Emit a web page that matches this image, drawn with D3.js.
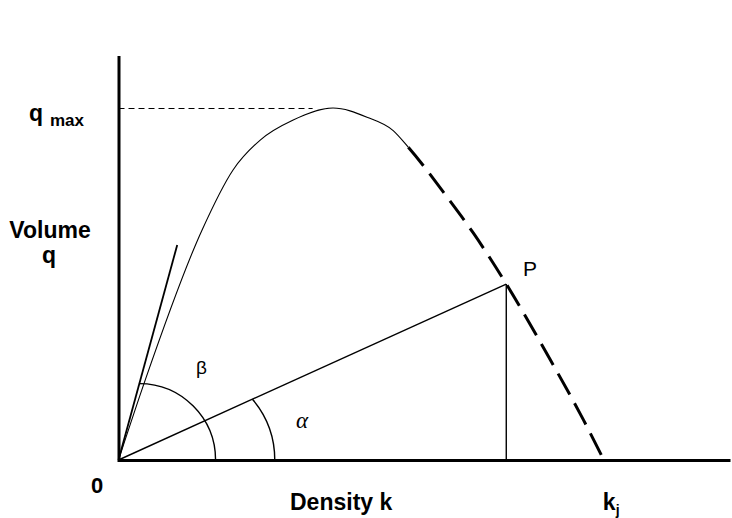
<!DOCTYPE html>
<html>
<head>
<meta charset="utf-8">
<script src="https://cdn.jsdelivr.net/npm/d3@7"></script>
<style>
  body { margin: 0; background: #fff; }
  text { font-family: "Liberation Sans", Arial, sans-serif; fill: #000; }
  .bold { font-weight: bold; }
</style>
</head>
<body>
<div id="chart-area"></div>
<script>
// DATA (density k, volume q)
const curveK = [0, 5.5, 17.2, 23.6, 29.2, 36.0, 44.2, 51.2, 56.6, 59.7, 67.7, 73.1, 79.9, 89.0, 95.8, 100]
const curveQ = [0, 22.7, 65.3, 82.4, 90.9, 96.6, 100, 97.4, 93.6, 88.9, 74.7, 64.5, 50.0, 28.4, 11.4, 0]
const solidEnd = 9          // last index of the solid (stable) part
const tangentEnd = [12.1, 61.1]
const pointP = [79.9, 50.0]
const qMax = 100
const qMaxLineEnd = 40
const kJam = 100
// ARCS: k where the arc leaves its line, k where it meets the axis
const betaArc = [4.3, 20.0]
const alphaArc = [27.6, 32.2]

// SET CHART MARGINS
const margin = {
    bottom: 58,
    left: 118.5,
    right: 2,
    top: 57
}

// SET CHART WIDTH & HEIGHT
const width = 732 - margin.left - margin.right
const height = 518 - margin.top - margin.bottom

// SET HTML TARGET
const svg = d3.select('#chart-area')
              .append('svg')
              .attr('width', 732)
              .attr('height', 518)

const g = svg.append('g')
             .attr('transform', 'translate(' + margin.left + ',' + margin.top + ')')

// SCALES
const x = d3.scaleLinear()
            .domain([0, 126])
            .range([0, width])

const y = d3.scaleLinear()
            .domain([0, 114.5])
            .range([height, 0])

const points = curveK.map((k, i) => [k, curveQ[i]])

const line = d3.line()
               .x(d => x(d[0]))
               .y(d => y(d[1]))
               .curve(d3.curveMonotoneX)

// QMAX GUIDE
g.append('line')
 .attr('x1', x(0))
 .attr('x2', x(qMaxLineEnd))
 .attr('y1', Math.round(y(qMax)) + 0.5)
 .attr('y2', Math.round(y(qMax)) + 0.5)
 .attr('stroke', '#000')
 .attr('stroke-width', 1)
 .attr('stroke-dasharray', '6,4')

// LENGTH OF THE SOLID (STABLE) PART ALONG THE CURVE
const solidLen = (() => {
    const tmp = g.append('path').datum(points.slice(0, solidEnd + 1)).attr('d', line)
    const l = tmp.node().getTotalLength()
    tmp.remove()
    return l
})()

// SOLID PART OF THE CURVE
const fullPath = g.append('path')
                  .datum(points)
                  .attr('d', line)
                  .attr('fill', 'none')
                  .attr('stroke', '#000')
                  .attr('stroke-width', 1.1)

const totalLen = fullPath.node().getTotalLength()
fullPath.attr('stroke-dasharray', solidLen + ',' + (totalLen + 10))

// DASHED PART: same geometry, dashes start where the solid part stops
const dashes = ['0', solidLen]
for (let s = 0; s < totalLen; s += 34) dashes.push(24, 10)

g.append('path')
 .datum(points)
 .attr('d', line)
 .attr('fill', 'none')
 .attr('stroke', '#000')
 .attr('stroke-width', 3)
 .attr('stroke-dasharray', dashes.join(','))

// TANGENT AT ORIGIN
g.append('line')
 .attr('x1', x(0)).attr('y1', y(0))
 .attr('x2', x(tangentEnd[0])).attr('y2', y(tangentEnd[1]))
 .attr('stroke', '#000')
 .attr('stroke-width', 1.8)

// RAY TO P AND DROP LINE
g.append('line')
 .attr('x1', x(0)).attr('y1', y(0))
 .attr('x2', x(pointP[0])).attr('y2', y(pointP[1]))
 .attr('stroke', '#000')
 .attr('stroke-width', 1.4)

g.append('line')
 .attr('x1', x(pointP[0])).attr('y1', y(pointP[1]))
 .attr('x2', x(pointP[0])).attr('y2', y(0))
 .attr('stroke', '#000')
 .attr('stroke-width', 1.4)

// ANGLE ARCS (circle centred on the axis through both ends)
const drawArc = (arc, slope) => {
    const sx = x(arc[0])
    const sy = y(0) - y(arc[0] * slope)
    const ex = x(arc[1])
    const cx = (ex * ex - sx * sx - sy * sy) / (2 * (ex - sx))
    const r = ex - cx
    g.append('path')
     .attr('d', 'M' + sx + ',' + y(arc[0] * slope) + ' A' + r + ',' + r + ' 0 0 1 ' + ex + ',' + y(0))
     .attr('fill', 'none')
     .attr('stroke', '#000')
     .attr('stroke-width', 1.4)
}
drawArc(betaArc, tangentEnd[1] / tangentEnd[0])
drawArc(alphaArc, pointP[1] / pointP[0])

// AXES
const xAxisCall = d3.axisBottom(x).ticks(0).tickSizeOuter(0)
const yAxisCall = d3.axisLeft(y).ticks(0).tickSizeOuter(0)

g.append('g')
 .attr('transform', 'translate(0,' + height + ')')
 .call(xAxisCall)
 .select('.domain')
 .attr('stroke', '#000')
 .attr('stroke-width', 3)

g.append('g')
 .call(yAxisCall)
 .select('.domain')
 .attr('stroke', '#000')
 .attr('stroke-width', 3)
 .attr('stroke-linecap', 'square')

// TEXT LABELS
svg.append('text').attr('class', 'bold').attr('x', 29).attr('y', 121)
   .attr('font-size', '23px').text('q')
svg.append('text').attr('class', 'bold').attr('x', 50).attr('y', 126)
   .attr('font-size', '17px').text('max')

svg.append('text').attr('class', 'bold').attr('x', 50).attr('y', 238)
   .attr('text-anchor', 'middle').attr('font-size', '23px').text('Volume')
svg.append('text').attr('class', 'bold').attr('x', 49).attr('y', 263)
   .attr('text-anchor', 'middle').attr('font-size', '23px').text('q')

svg.append('text').attr('class', 'bold').attr('x', 97).attr('y', 493)
   .attr('text-anchor', 'middle').attr('font-size', '22px').text('0')

svg.append('text').attr('class', 'bold').attr('x', 290).attr('y', 510)
   .attr('font-size', '23px').text('Density k')

svg.append('text').attr('class', 'bold').attr('x', margin.left + x(kJam) - 1).attr('y', 510)
   .attr('font-size', '23px').text('k')
svg.append('text').attr('class', 'bold').attr('x', margin.left + x(kJam) + 12).attr('y', 515)
   .attr('font-size', '14px').text('j')

svg.append('text').attr('x', 523).attr('y', 276)
   .attr('font-size', '21px').text('P')

svg.append('text').attr('x', 196).attr('y', 374)
   .attr('font-size', '19px').text('β')

svg.append('text').attr('x', 296).attr('y', 428)
   .attr('font-size', '23px')
   .style('font-family', '"Liberation Serif", serif')
   .style('font-style', 'italic')
   .text('α')
</script>
</body>
</html>
